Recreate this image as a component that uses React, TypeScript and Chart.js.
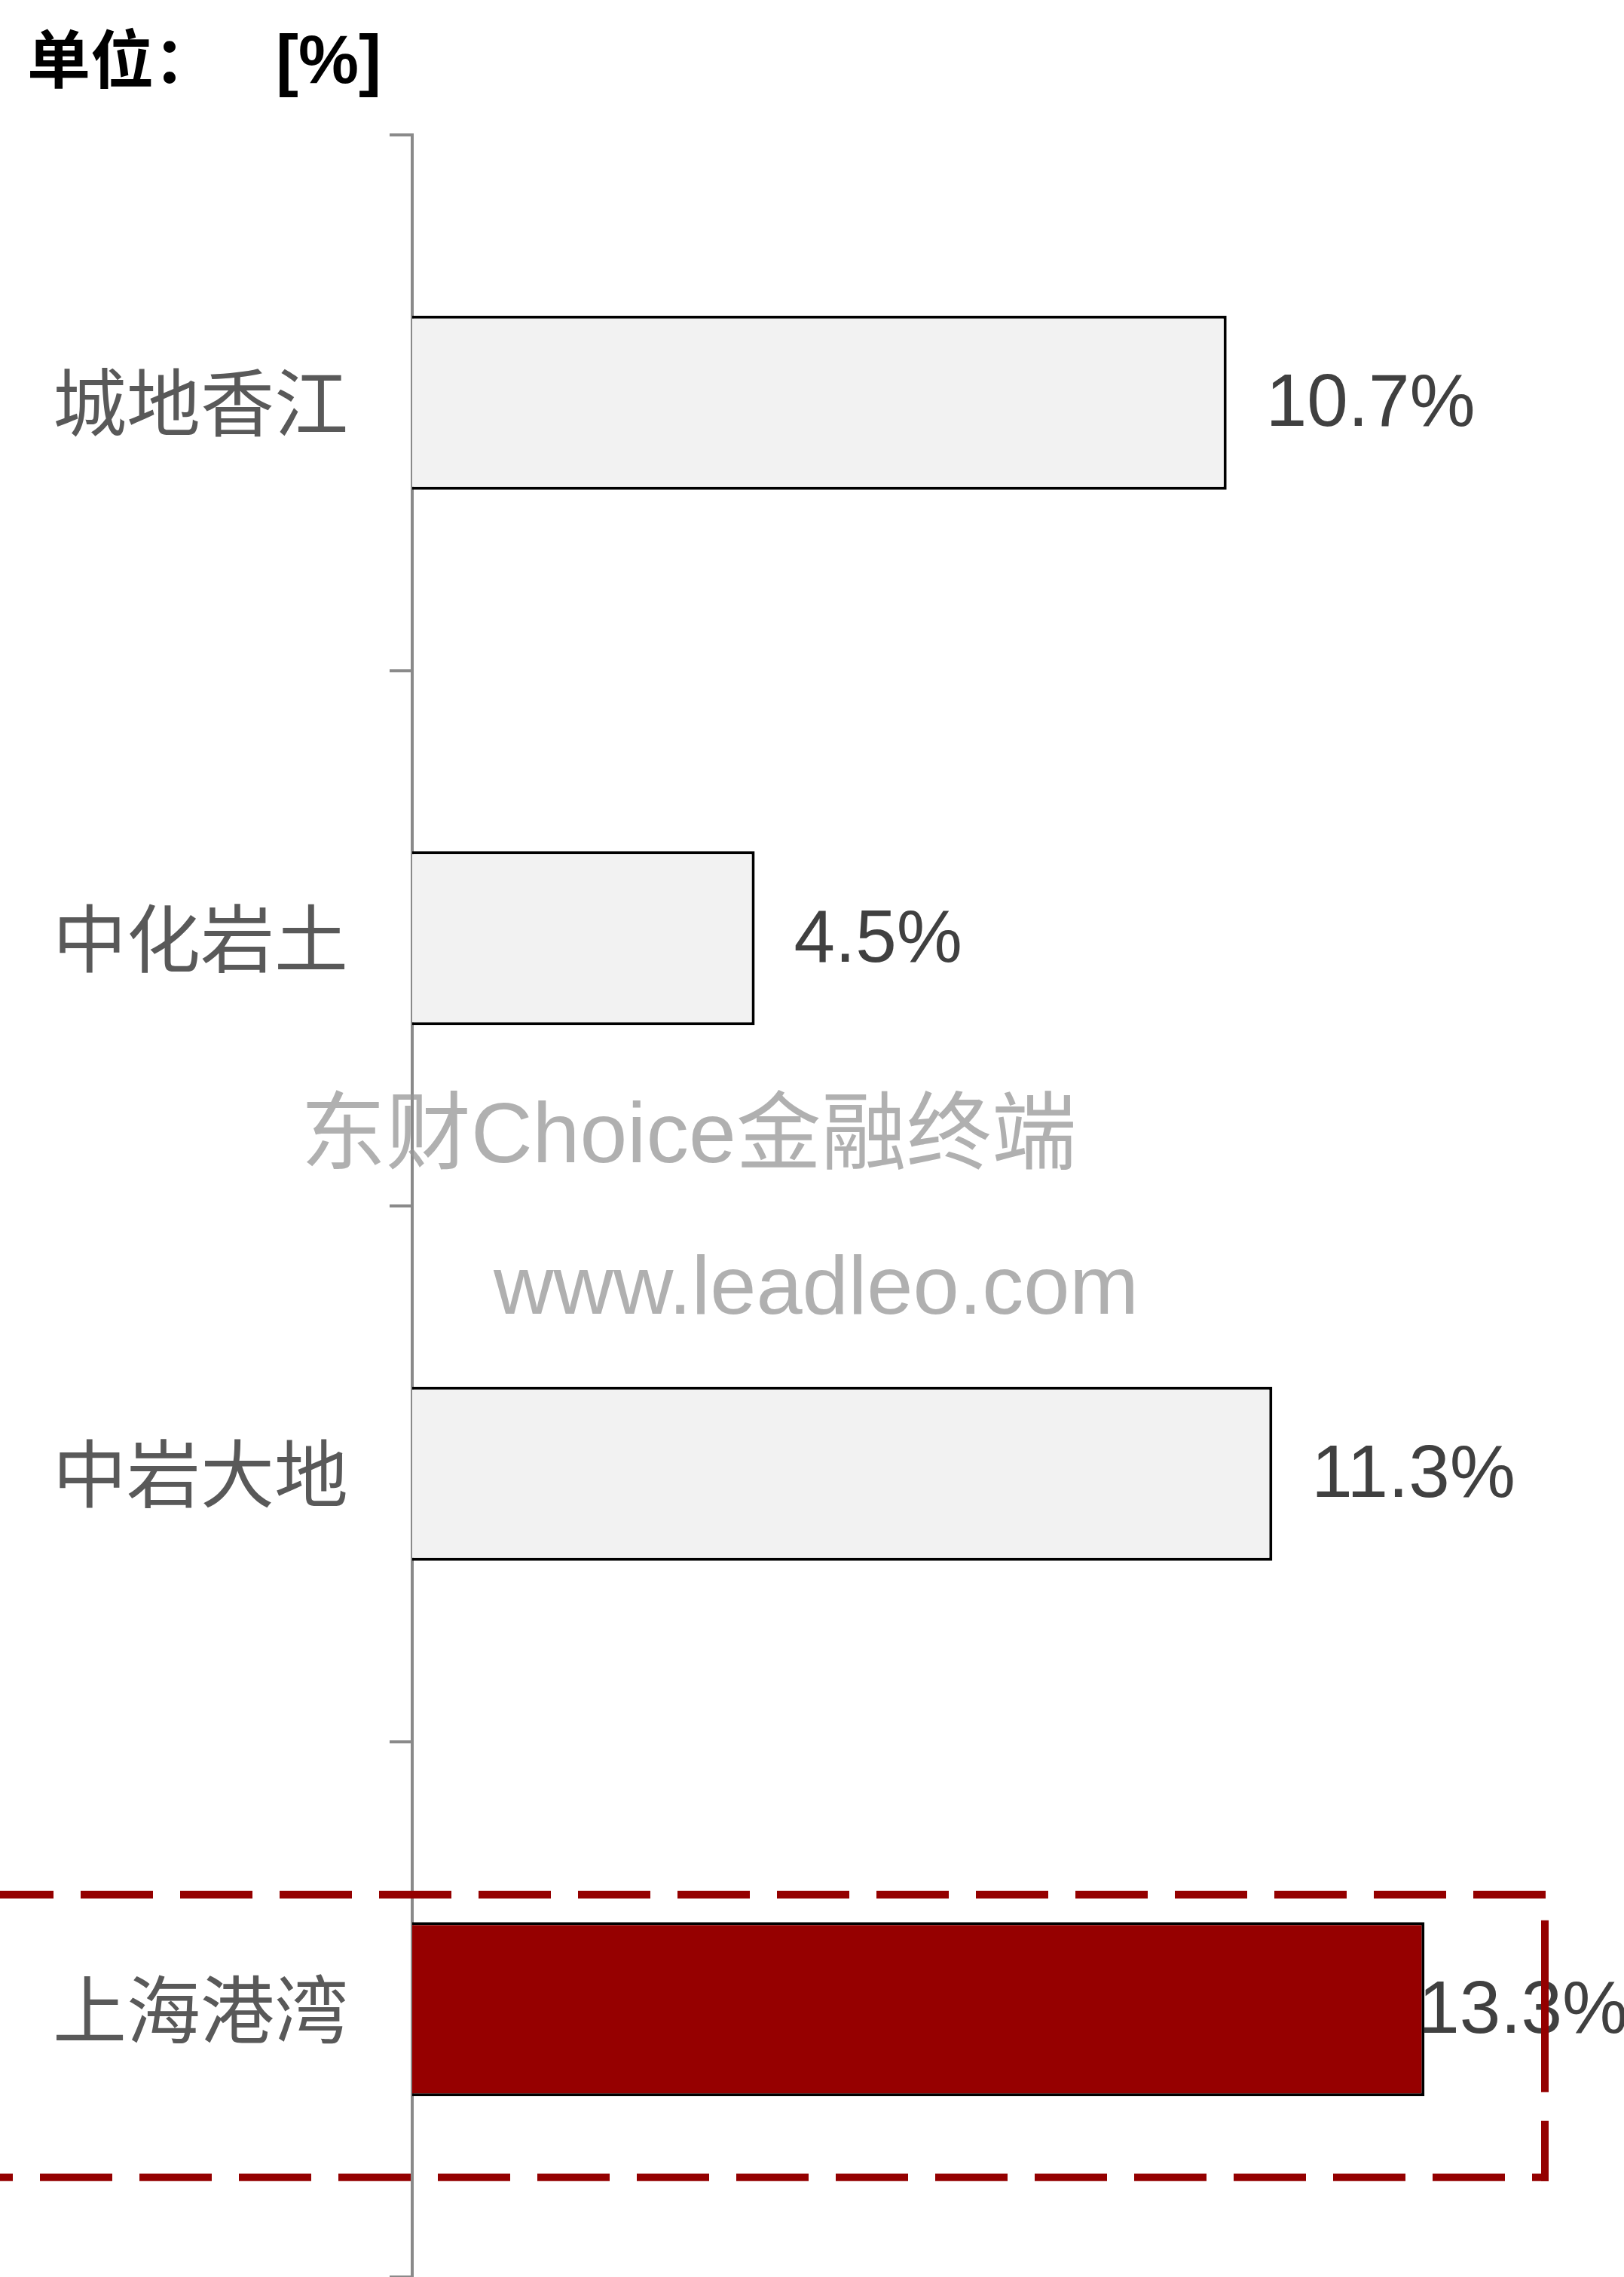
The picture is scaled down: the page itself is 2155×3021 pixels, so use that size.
import React, { useEffect, useRef } from "react";
import { Chart, registerables } from "chart.js";

Chart.register(...registerables);

const categories = ["城地香江", "中化岩土", "中岩大地", "上海港湾"];
const values = [10.7, 4.5, 11.3, 13.3];
const highlightIndex = 3;
const titleText = "单位：";
const unitText = "[%]";
const watermarkCn = "东财Choice金融终端";
const watermarkUrl = "www.leadleo.com";

const W = 2155;
const H = 3021;

export default function App() {
  const ref = useRef<HTMLCanvasElement | null>(null);

  useEffect(() => {
    const canvas = ref.current;
    if (!canvas) return;

    const overlay = {
      id: "overlay",
      afterDatasetsDraw(chart: any) {
        const ctx = chart.ctx;
        const meta = chart.getDatasetMeta(0);
        ctx.save();
        ctx.font = "98px 'Liberation Sans', Arial, sans-serif";
        ctx.fillStyle = "#404040";
        ctx.textBaseline = "middle";
        ctx.textAlign = "left";
        meta.data.forEach((bar: any, i: number) => {
          const gap = i === highlightIndex ? -8 : 52;
          ctx.fillText(values[i].toFixed(1) + "%", bar.x + gap, bar.y + 4);
        });
        ctx.restore();
      },
      afterDraw(chart: any) {
        const ctx = chart.ctx;
        ctx.save();
        // title
        ctx.fillStyle = "#000000";
        ctx.textBaseline = "alphabetic";
        ctx.textAlign = "left";
        ctx.font = "bold 84px 'Noto Sans CJK SC', sans-serif";
        ctx.fillText(titleText, 36, 110);
        ctx.font = "bold 90px 'Liberation Sans', Arial, sans-serif";
        ctx.fillText(unitText, 366, 110);

        // watermarks
        ctx.fillStyle = "rgba(150,150,150,0.75)";
        ctx.font = "113px 'Liberation Sans', 'Noto Sans CJK SC', sans-serif";
        ctx.fillText(watermarkCn, 399, 1542);
        ctx.font = "110px 'Liberation Sans', Arial, sans-serif";
        ctx.fillText(watermarkUrl, 655, 1743);

        // dashed highlight box
        const bar = chart.getDatasetMeta(0).data[highlightIndex];
        const top = bar.y - 152;
        const bottom = bar.y + 223;
        const right = chart.chartArea.right - 12;
        ctx.strokeStyle = "#940000";
        ctx.lineWidth = 10;
        ctx.lineCap = "butt";
        ctx.setLineDash([96, 36]);
        ctx.beginPath();
        ctx.moveTo(-25, top);
        ctx.lineTo(right + 5, top);
        ctx.stroke();
        ctx.beginPath();
        ctx.moveTo(-79, bottom);
        ctx.lineTo(right + 5, bottom);
        ctx.stroke();
        ctx.setLineDash([228, 38]);
        ctx.beginPath();
        ctx.moveTo(right, top + 34);
        ctx.lineTo(right, bottom + 5);
        ctx.stroke();
        ctx.restore();
      },
    };

    const chart = new Chart(canvas, {
      type: "bar",
      data: {
        labels: categories,
        datasets: [
          {
            data: values,
            backgroundColor: values.map((_, i) => (i === highlightIndex ? "#960000" : "#f2f2f2")),
            borderColor: "#000000",
            borderWidth: 4,
            categoryPercentage: 1,
            barPercentage: 0.325,
          },
        ],
      },
      options: {
        indexAxis: "y",
        animation: false,
        responsive: false,
        devicePixelRatio: 1,
        layout: { padding: { top: 179, right: 93, bottom: 0, left: 0 } },
        plugins: {
          legend: { display: false },
          title: { display: false },
          tooltip: { enabled: false },
        },
        scales: {
          x: {
            display: false,
            min: 0,
            max: 15,
          },
          y: {
            z: 1,
            afterFit(scale: any) {
              scale.width = 547;
              scale.paddingTop = 0;
              scale.paddingBottom = 0;
            },
            border: { display: true, color: "#8a8a8a", width: 4 },
            grid: {
              display: true,
              drawOnChartArea: false,
              drawTicks: true,
              tickLength: 30,
              color: "#8a8a8a",
              lineWidth: 4,
              offset: true,
            },
            ticks: {
              color: "#595959",
              padding: 55,
              font: { family: "'Noto Sans CJK SC', sans-serif", size: 98 },
            },
          },
        },
      },
      plugins: [overlay],
    } as any);

    return () => chart.destroy();
  }, []);

  return (
    <div style={{ position: "absolute", left: 0, top: 0, width: W, height: H, background: "#ffffff" }}>
      <canvas ref={ref} width={W} height={H} style={{ width: W, height: H, display: "block" }} />
    </div>
  );
}
